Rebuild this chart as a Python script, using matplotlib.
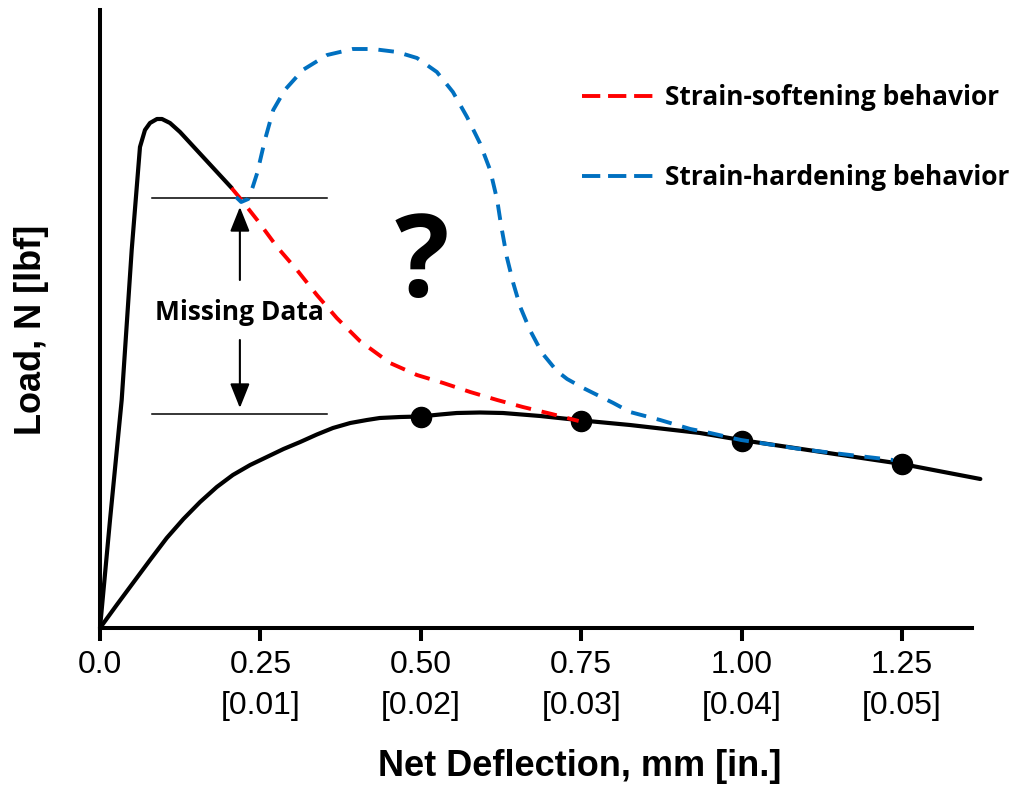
import matplotlib
matplotlib.use("Agg")
import matplotlib.pyplot as plt
from matplotlib import font_manager
from matplotlib.lines import Line2D

# deflection (mm) and load (relative units)
PEAK_X = [0.0, 0.0156, 0.0338, 0.0494, 0.0623, 0.0701, 0.0779, 0.0888, 0.0966, 0.1091, 0.1247, 0.2053]
PEAK_Y = [0, 108, 228, 378, 481, 498, 505, 509, 509, 505, 496, 440]

RISE_X = [0.0, 0.026, 0.0514, 0.078, 0.104, 0.130, 0.156, 0.182, 0.207, 0.234, 0.260, 0.286,
          0.312, 0.338, 0.363, 0.390, 0.416, 0.436, 0.468, 0.499, 0.530, 0.556, 0.592, 0.628,
          0.686, 0.752, 0.826, 0.935, 0.999, 1.250, 1.372]
RISE_Y = [0, 23, 45, 68, 90, 109, 126, 141, 153, 163, 171, 179, 186, 193.5, 200, 205, 208, 210,
          211, 211.5, 213.5, 215, 215.5, 215, 212, 207.5, 203, 195, 188, 164, 149]

DOTS_X = [0.50, 0.75, 1.00, 1.25]
DOTS_Y = [211, 207, 187, 164]

SOFT_X = [0.205, 0.218, 0.245, 0.276, 0.307, 0.338, 0.369, 0.405, 0.452, 0.494, 0.535, 0.577,
          0.619, 0.659, 0.704, 0.746]
SOFT_Y = [440, 430, 408, 381, 358, 333, 310, 287, 265, 253, 245, 236, 228, 221, 214, 207]

HARD_X = [0.212, 0.220, 0.231, 0.238, 0.245, 0.257, 0.270, 0.288, 0.316, 0.354, 0.394, 0.425,
          0.463, 0.494, 0.525, 0.550, 0.572, 0.592, 0.608, 0.619, 0.625, 0.634, 0.644, 0.655,
          0.670, 0.689, 0.712, 0.728, 0.753, 0.800, 0.826, 0.873, 0.920, 0.951, 0.999, 1.091,
          1.169, 1.236]
HARD_Y = [431, 426, 429, 441, 455, 488, 518, 538, 558, 573, 579, 579, 576, 570, 556, 536, 511,
          485, 458, 428, 403, 371, 345, 321, 298, 275, 257, 249, 240, 225, 216, 208, 199, 195,
          188, 179, 173, 168]

# missing data band
GAP_TOP = 430
GAP_BOTTOM = 214
GAP_X = [0.081, 0.354]
ARROW_X = 0.218

XTICKS = [0.0, 0.25, 0.50, 0.75, 1.00, 1.25]
XTICK_LABELS = ["0.0", "0.25\n[0.01]", "0.50\n[0.02]", "0.75\n[0.03]", "1.00\n[0.04]", "1.25\n[0.05]"]

RED = "#ff0000"
BLUE = "#0070c0"

names = {f.name for f in font_manager.fontManager.ttflist}
if "Liberation Sans Narrow" in names:
    AX_FONT, TICK_SIZE, LABEL_SIZE = "Liberation Sans Narrow", 27, 31
else:
    AX_FONT, TICK_SIZE, LABEL_SIZE = "Liberation Sans", 23, 26
NOTE_FONT = "Open Sans"

fig = plt.figure(figsize=(10.2, 7.87), dpi=100)
ax = fig.add_axes([100 / 1020, 1 - 628 / 787, 872 / 1020, 618 / 787])

ax.plot(PEAK_X, PEAK_Y, color="black", lw=3, solid_capstyle="round", solid_joinstyle="round",
        clip_on=False, zorder=3)
ax.plot(RISE_X, RISE_Y, color="black", lw=3, solid_capstyle="round", solid_joinstyle="round",
        clip_on=False, zorder=3)
ax.plot(DOTS_X, DOTS_Y, "o", color="black", ms=14.5, zorder=4)

ax.plot(SOFT_X, SOFT_Y, color=RED, lw=2.8, dashes=(4, 2.8), zorder=5)
ax.plot(HARD_X, HARD_Y, color=BLUE, lw=2.8, dashes=(4, 2.8), zorder=5)

# missing data markers
ax.plot(GAP_X, [GAP_TOP, GAP_TOP], color="black", lw=1.1, zorder=2)
ax.plot(GAP_X, [GAP_BOTTOM, GAP_BOTTOM], color="black", lw=1.1, zorder=2)
arrow = dict(arrowstyle="-|>,head_length=0.75,head_width=0.3", color="black", lw=1.5,
             mutation_scale=20, shrinkA=0, shrinkB=0)
ax.annotate("", xy=(ARROW_X, 421), xytext=(ARROW_X, 348), arrowprops=arrow)
ax.annotate("", xy=(ARROW_X, 220), xytext=(ARROW_X, 288), arrowprops=arrow)
ax.text(ARROW_X, 316, "Missing Data", ha="center", va="center", fontsize=19,
        fontweight="bold", family=NOTE_FONT)
ax.text(0.501, 361, "?", ha="center", va="center", fontsize=82, fontweight="bold", family=NOTE_FONT)

# legend
handles = [Line2D([], [], color=RED, lw=2.8, dashes=(4.7, 2)),
           Line2D([], [], color=BLUE, lw=2.8, dashes=(4.7, 2))]
leg = ax.legend(handles, ["Strain-softening behavior", "Strain-hardening behavior"],
                loc="upper left", bbox_to_anchor=(582 / 1020, 1 - 84 / 787),
                bbox_transform=fig.transFigure, frameon=False, borderpad=0, borderaxespad=0,
                handlelength=2.77, handletextpad=0.38, labelspacing=2.0,
                prop={"family": NOTE_FONT, "weight": "bold", "size": 19})

ax.set_xlim(0, 1.359)
ax.set_ylim(0, 618)
ax.set_xticks(XTICKS)
ax.set_xticklabels(XTICK_LABELS, family=AX_FONT, fontsize=TICK_SIZE)
for lbl in ax.get_xticklabels():
    lbl.set_linespacing(1.45)
ax.set_yticks([])
ax.tick_params(axis="x", direction="out", length=9, width=2.9, pad=7)

for side in ["top", "right"]:
    ax.spines[side].set_visible(False)
for side in ["left", "bottom"]:
    ax.spines[side].set_linewidth(2.9)

ax.set_xlabel("Net Deflection, mm [in.]", family=AX_FONT, fontsize=LABEL_SIZE, fontweight="bold")
ax.xaxis.set_label_coords(0.55, -0.195)
ax.set_ylabel("Load, N [lbf]", family=AX_FONT, fontsize=LABEL_SIZE, fontweight="bold")
ax.yaxis.set_label_coords(-0.0585, 0.482)

fig.savefig("out.png", dpi=100)
